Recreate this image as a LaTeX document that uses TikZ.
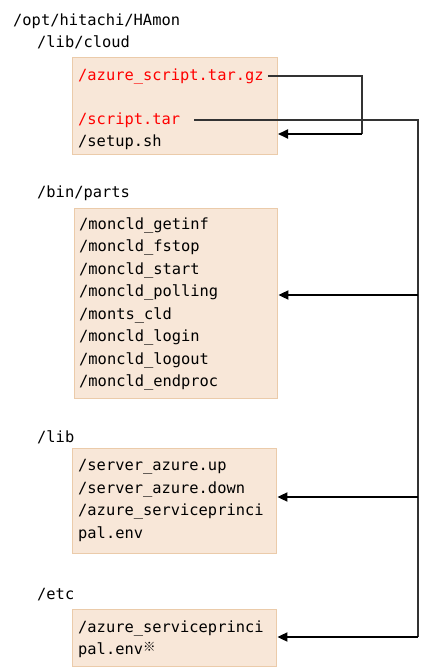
\documentclass[tikz,border=0pt]{standalone}
\usepackage{fontspec}
\setmainfont{DejaVu Sans Mono}
\newfontfamily\cjk{Noto Sans CJK JP}
\usepackage{tikz}
\usetikzlibrary{arrows.meta}

\definecolor{boxfill}{HTML}{F8E7D8}
\definecolor{boxline}{HTML}{EBCBAA}
\definecolor{wire}{HTML}{333333}

\tikzset{
  dirname/.style={anchor=west, inner sep=0pt},
  fname/.style={anchor=west, inner sep=0pt},
  redname/.style={fname, text=red},
  filebox/.style={draw=boxline, fill=boxfill, line width=0.8pt, inner sep=0pt},
  wireline/.style={draw=wire, line width=1.1pt},
  feed/.style={draw=black, line width=1.8pt, -{Triangle[length=10pt,width=9pt]}, shorten >=1pt},
}

\begin{document}
\begin{tikzpicture}[x=1pt,y=-1pt,font=\fontsize{15.4}{22}\selectfont]
  \useasboundingbox (0,0) rectangle (423,671);

  % directory headers
  \node[dirname] (root) at (13,21) {/opt/hitachi/HAmon};
  \node[dirname] (cloud) at (37,42) {/lib/cloud};
  \node[dirname] (parts) at (37,193) {/bin/parts};
  \node[dirname] (lib) at (37,437) {/lib};
  \node[dirname] (etc) at (37,595) {/etc};

  % boxes
  \node[filebox, minimum width=205pt, minimum height=97pt] (cloudbox) at (174.5,105.5) {};
  \node[filebox, minimum width=203pt, minimum height=190pt] (partsbox) at (175.5,303) {};
  \node[filebox, minimum width=204pt, minimum height=105pt] (libbox) at (174,500.5) {};
  \node[filebox, minimum width=204pt, minimum height=57pt] (etcbox) at (174,637.5) {};

  % /lib/cloud
  \node[redname] (azure) at (78,76) {/azure\_script.tar.gz};
  \node[redname] (tar) at (78,120) {/script.tar};
  \node[fname] (setup) at (78,142) {/setup.sh};

  % /bin/parts
  \foreach \name [count=\i] in {moncld\_getinf, moncld\_fstop, moncld\_start,
      moncld\_polling, monts\_cld, moncld\_login, moncld\_logout, moncld\_endproc}
    \node[fname] (part\i) at (79,{225+22.5*(\i-1)}) {/\name};

  % /lib
  \foreach \name [count=\i] in {/server\_azure.up, /server\_azure.down,
      /azure\_serviceprinci, pal.env}
    \node[fname] (libf\i) at (78,{467+22.3*(\i-1)}) {\name};

  % /etc
  \node[fname] (env1) at (78,628) {/azure\_serviceprinci};
  \node[fname] (env2) at (78,650) {pal.env{\cjk\fontsize{12.5}{12}\selectfont\raisebox{3.5pt}{※}}};

  % unpack loop
  \coordinate (loopA) at (362,134);
  \coordinate (intoA) at (277,134);
  \draw[wireline] ([xshift=4pt]azure.east) -| (loopA);
  \draw[feed] (loopA) -- (intoA);

  % bus from script.tar
  \coordinate (busend) at (418,637);
  \draw[wireline] ([xshift=14pt]tar.east) -| (busend);
  \foreach \tgt/\y in {partsbox/295, libbox/497, etcbox/637} {
    \coordinate (tap\tgt) at (418,\y);
    \draw[feed] (tap\tgt) -- (\tgt.east |- tap\tgt);
  }
\end{tikzpicture}
\end{document}
